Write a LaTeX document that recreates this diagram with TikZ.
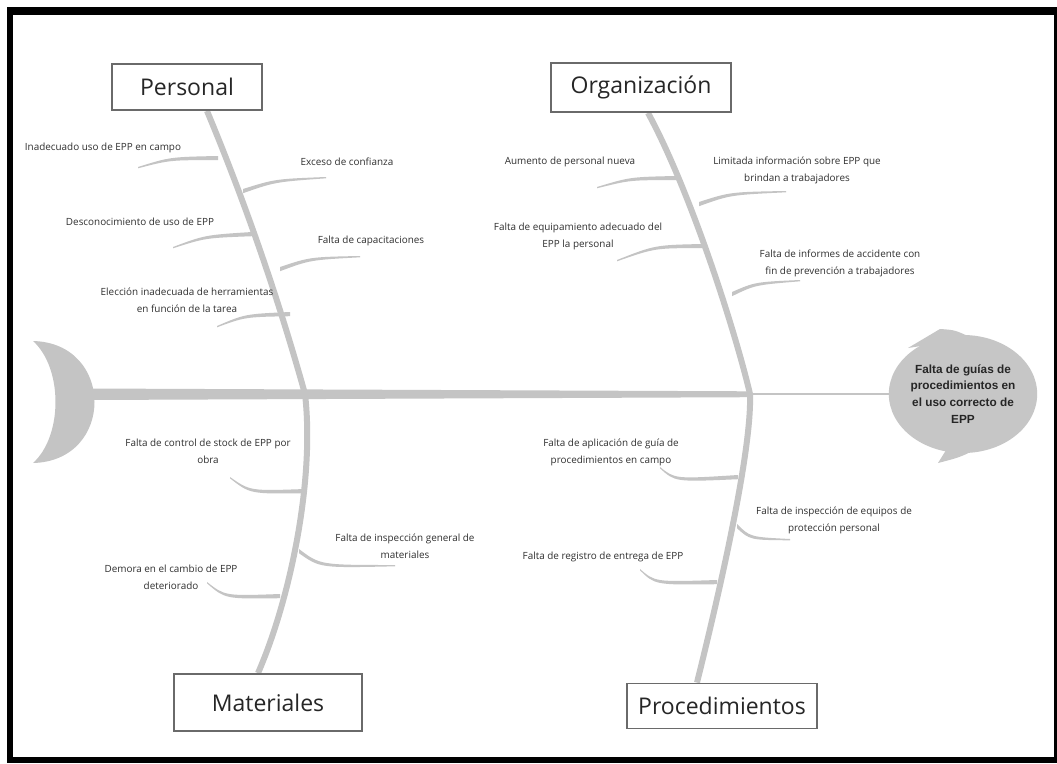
\documentclass[tikz,border=0pt]{standalone}
\usepackage{fontspec}
\setmainfont{Open Sans}
\newfontfamily\headfont{Liberation Sans}
\usetikzlibrary{shapes.geometric}
\definecolor{bonegray}{HTML}{C4C4C4}
\definecolor{bubblegray}{HTML}{C6C6C6}
\definecolor{boxline}{HTML}{6A6A6A}
\definecolor{txt}{HTML}{303030}
% tapered twig: bone end (x,y), control (x,y), outer end (x,y)
\newcommand\twig[6]{\fill[bonegray] (#1,#2) .. controls (#3,#4) .. (#5,#6) -- (#5,#6+1.3) .. controls (#3,#4+3) .. (#1,#2+4.2) -- cycle;}
\tikzset{
  small/.style={font=\fontsize{9.9}{17}\selectfont, text=txt, align=center, inner sep=0pt},
  catbox/.style={draw=boxline, line width=1.8pt, fill=white, inner sep=0pt, text=black!85, font=\fontsize{23}{26}\selectfont},
  bone/.style={draw=bonegray, line width=6pt},
}
\begin{document}
\begin{tikzpicture}[x=1pt, y=-1pt]
\useasboundingbox (0,0) rectangle (1057,763);
% frame
\fill[black] (7,7) rectangle (1057,763);
\fill[white] (13,15) rectangle (1054,757);

% head bubble
\fill[bubblegray] (948,447) -- (938,463) .. controls (965,456) .. (992,438) -- cycle;
\fill[bubblegray] (908,348) -- (940,329) .. controls (955,330) .. (972,338) -- cycle;
\node[ellipse, fill=bubblegray, minimum width=148pt, minimum height=118pt, inner sep=0pt,
      font=\headfont\bfseries\fontsize{11.8}{16.8}\selectfont, text=black!85, align=center]
      (head) at (963,394) {Falta de guías de\\procedimientos en\\el uso correcto de\\EPP};

% tail
\fill[bonegray] (33,341) .. controls (115,343) and (115,461) .. (33,463)
                .. controls (63,436) and (63,368) .. (33,341) -- cycle;

% junctions
\coordinate (pj) at (305,394);
\coordinate (oj) at (750,394);

% spine
\fill[bonegray] (88,388.5) -- (750,391.3) -- (750,397.2) -- (88,400) -- cycle;
\draw[bonegray, line width=2.5pt] (oj) -- (head.west);

% category boxes (positions)
\node[catbox, minimum width=150pt, minimum height=46pt] (pers) at (187,87) {Personal};
\node[catbox, minimum width=180pt, minimum height=49pt] (org) at (641,87.5) {Organización};
\node[catbox, minimum width=188pt, minimum height=57pt] (mat) at (268,702.5) {Materiales};
\node[catbox, minimum width=190pt, minimum height=45pt] (proc) at (722,706) {Procedimientos};

% main bones
\draw[bone] ([xshift=20pt]pers.south) .. controls (247,207) and (280,304) .. (pj);
\draw[bone] (pj) .. controls (315,480) and (290,600) .. ([xshift=-10pt]mat.north);
\draw[bone] ([xshift=7pt]org.south) .. controls (690,190) and (735,330) .. (oj);
\draw[bone] (oj) .. controls (752,450) and (720,590) .. ([xshift=-25pt]proc.north);

% redraw boxes on top of bone ends
\node[catbox, minimum width=150pt, minimum height=46pt] at (pers) {Personal};
\node[catbox, minimum width=180pt, minimum height=49pt] at (org) {Organización};
\node[catbox, minimum width=188pt, minimum height=57pt] at (mat) {Materiales};
\node[catbox, minimum width=190pt, minimum height=45pt] at (proc) {Procedimientos};

% twigs - Personal
\twig{218}{156}{170}{157}{138}{167}
\twig{243}{189}{275}{179}{326}{177}
\twig{252}{232}{205}{235}{173}{247}
\twig{280}{267}{310}{257}{360}{256}
\twig{290}{312}{245}{314}{217}{326}
% twigs - Organizacion
\twig{676}{176}{630}{177}{597}{187}
\twig{703}{244}{655}{245}{617}{260}
\twig{699}{202}{730}{192}{786}{191}
\twig{732}{292}{755}{282}{800}{280}
% twigs - Materiales
\twig{305}{489}{250}{491}{230}{477}
\twig{299}{549}{320}{565}{395}{565}
\twig{280}{594}{225}{596}{207}{582}
% twigs - Procedimientos
\twig{738}{475}{675}{479}{660}{467}
\twig{737}{524}{750}{537}{790}{539}
\twig{717}{580}{655}{582}{640}{569}

% texts
\node[small] (t1) at (103,148) {Inadecuado uso de EPP en campo};
\node[small] (t2) at (347,162) {Exceso de confianza};
\node[small] (t3) at (140,222) {Desconocimiento de uso de EPP};
\node[small] (t4) at (371,241) {Falta de capacitaciones};
\node[small] (t5) at (187,300) {Elección inadecuada de herramientas\\en función de la tarea};
\node[small] (t6) at (570,162) {Aumento de personal nueva};
\node[small] (t7) at (578,236) {Falta de equipamiento adecuado del\\EPP la personal};
\node[small] (t8) at (797,170) {Limitada información sobre EPP que\\brindan a trabajadores};
\node[small] (t9) at (840,263) {Falta de informes de accidente con\\fin de prevención a trabajadores};
\node[small] (t10) at (208,451) {Falta de control de stock de EPP por\\obra};
\node[small] (t11) at (405,546) {Falta de inspección general de\\materiales};
\node[small] (t12) at (171,577) {Demora en el cambio de EPP\\deteriorado};
\node[small] (t13) at (611,452) {Falta de aplicación de guía de\\procedimientos en campo};
\node[small] (t14) at (834,520) {Falta de inspección de equipos de\\protección personal};
\node[small] (t15) at (603,557) {Falta de registro de entrega de EPP};
\end{tikzpicture}
\end{document}
